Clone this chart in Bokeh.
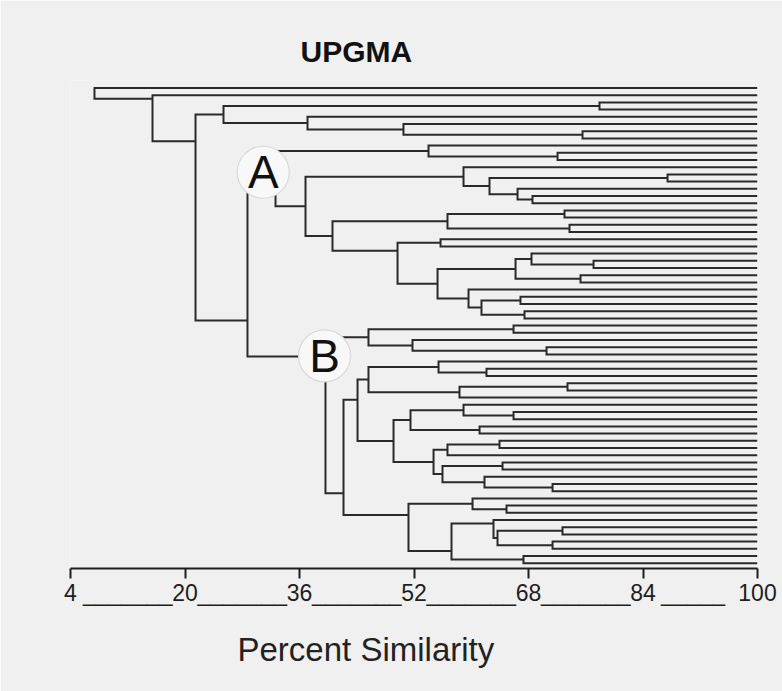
from bokeh.plotting import figure
from bokeh.models import Range1d, LinearAxis, FixedTicker, Title, Grid
from bokeh.core.properties import value
from bokeh.embed import file_html
from bokeh.resources import INLINE

# ---------------- data ----------------
n_leaves = 67  # leaves listed top (row 0) to bottom (row 66)

# UPGMA merges: node ids 0..66 are leaves, 67.. are clusters in creation order
merge_left = [2, 6, 5, 4, 67, 9, 8, 12, 15, 14, 74, 11, 17, 19, 79, 21, 24, 23, 26, 84,
              29, 31, 87, 28, 86, 82, 81, 78, 73, 33, 36, 35, 96, 39, 38, 41, 102, 101,
              45, 44, 47, 106, 49, 109, 52, 55, 54, 111, 110, 108, 104, 58, 57, 61, 63,
              120, 60, 65, 123, 119, 117, 99, 95, 71, 1, 0]
merge_right = [3, 7, 68, 69, 70, 10, 72, 13, 16, 75, 76, 77, 18, 20, 80, 22, 25, 83, 27,
               85, 30, 32, 88, 89, 90, 91, 92, 93, 94, 34, 37, 97, 98, 40, 100, 42, 43,
               103, 46, 105, 48, 107, 50, 51, 53, 56, 112, 113, 114, 115, 116, 59, 118,
               62, 64, 121, 122, 66, 124, 125, 126, 127, 128, 129, 130, 131]
merge_similarity = [77.92, 75.55, 50.53, 37.12, 25.38, 72.06, 54.03, 87.43, 68.56, 66.47,
                    62.55, 58.92, 73.03, 73.73, 56.68, 55.71, 77.09, 68.42, 75.27, 66.19,
                    66.88, 67.44, 61.43, 59.62, 55.29, 49.70, 40.61, 36.84, 32.65, 65.91,
                    70.52, 51.79, 45.64, 62.13, 55.43, 73.45, 58.36, 45.64, 65.91, 58.92,
                    61.16, 51.51, 63.95, 56.68, 64.37, 71.36, 61.85, 55.98, 54.73, 49.14,
                    44.11, 64.93, 60.18, 72.75, 71.36, 63.67, 63.11, 67.30, 57.24, 51.23,
                    42.15, 39.63, 28.73, 21.47, 15.46, 7.35]

# rows at which the original drawing joins a cluster's stem when it is off-centre
stem_row_override = {131: 1.5, 130: 7.4, 129: 32.3, 128: 37.3, 127: 56.3,
                     92: 22.6, 117: 43.3, 126: 59.3, 123: 60.5, 125: 64.3}

ticks = [4, 20, 36, 52, 68, 84, 100]
underscore_at = [12, 28, 44, 60, 76, 91]
underscore_counts = [7, 7, 7, 7, 7, 5]

group_labels = ["A", "B"]
group_label_x = [30.93, 39.5]
group_label_row = [11.7, 37.2]

title_text = "UPGMA"
axis_title = "Percent Similarity"

# ---------------- build dendrogram paths ----------------
node_x = {i: 100.0 for i in range(n_leaves)}
node_row = {i: float(i) for i in range(n_leaves)}
xs, ys = [], []
for k, (l, r, s) in enumerate(zip(merge_left, merge_right, merge_similarity)):
    nid = n_leaves + k
    node_x[nid] = s
    node_row[nid] = stem_row_override.get(nid, (node_row[l] + node_row[r]) / 2.0)
    xs.append([node_x[l], s, s, node_x[r]])
    ys.append([node_row[l], node_row[l], node_row[r], node_row[r]])

# ---------------- figure ----------------
BG = "#f0f0f0"
INK = "#1e1e1e"
FONT = "Liberation Sans"

p = figure(width=782, height=691, output_backend="svg", toolbar_location=None,
           x_range=Range1d(4, 100), y_range=Range1d(66.736, -1.042),
           x_axis_location=None, y_axis_location=None,
           min_border_left=70, min_border_right=25, min_border_top=80,
           min_border_bottom=123,
           background_fill_color=BG, border_fill_color=BG, outline_line_color=None)
for g in list(p.center):
    if isinstance(g, Grid):
        g.visible = False

p.multi_line(xs=xs, ys=ys, line_color="#2a2a2a", line_width=2, line_join="miter")

# axis: numbered positions carry the tick marks (as minor ticks), typed underscores
# sit between them as extra labels
label_map = {t: str(t) for t in ticks}
label_map.update({u: "_" * c for u, c in zip(underscore_at, underscore_counts)})
ax = LinearAxis(ticker=FixedTicker(ticks=sorted(label_map), minor_ticks=ticks),
                major_label_overrides=label_map,
                major_tick_out=0, major_tick_in=0, major_tick_line_color=None,
                minor_tick_out=10, minor_tick_in=0,
                minor_tick_line_width=2, minor_tick_line_color=INK,
                axis_line_width=2, axis_line_color=INK,
                major_label_text_font=FONT, major_label_text_font_size="23px",
                major_label_text_color=INK, major_label_standoff=1)
p.add_layout(ax, "below")

p.add_layout(Title(text=axis_title, align="left", offset=167, standoff=40,
                   text_font=FONT, text_font_style="normal", text_font_size="33px",
                   text_color="#222222"), "below")
p.add_layout(Title(text=title_text, align="left", offset=230, standoff=26,
                   text_font=FONT, text_font_style="bold", text_font_size="30px",
                   text_color="#111111"), "above")

# group markers A and B
p.scatter(x=group_label_x, y=group_label_row, size=52, marker="circle",
          fill_color="#f8f8f8", line_color="#dadada", line_width=1.2)
p.text(x=group_label_x, y=group_label_row, text=group_labels, text_align="center",
       text_baseline="middle", text_font=value(FONT), text_font_size="46px",
       text_color="#111111")

open("out.html", "w").write(file_html(p, INLINE))
